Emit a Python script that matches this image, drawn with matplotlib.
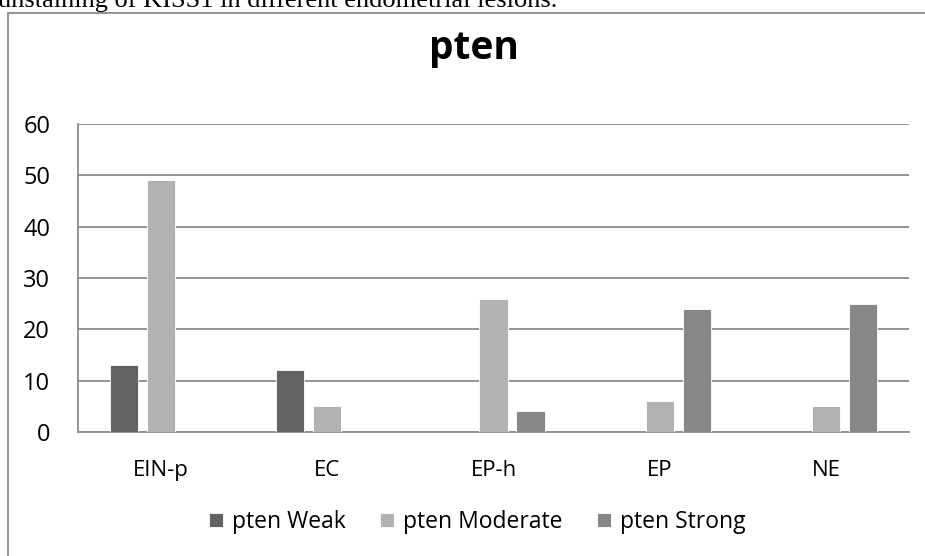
import numpy as np
import matplotlib
matplotlib.use("Agg")
import matplotlib.pyplot as plt
from matplotlib.patches import Rectangle

categories = ["EIN-p", "EC", "EP-h", "EP", "NE"]
series_names = ["pten Weak", "pten Moderate", "pten Strong"]
weak = [13, 12, 0, 0, 0]
moderate = [49, 5, 26, 6, 5]
strong = [0, 0, 4, 24, 25]
yticks = [0, 10, 20, 30, 40, 50, 60]

colors = ["#636363", "#b2b2b2", "#878787"]
plt.rcParams["font.family"] = ["Open Sans", "DejaVu Sans"]

fig = plt.figure(figsize=(9.25, 5.56), dpi=100)
fig.patch.set_facecolor("white")

# outer chart border (runs off the right and bottom of the picture)
fig.patches.append(Rectangle((8 / 925, -0.2), 1.2, 1.2 - 13 / 556,
                             transform=fig.transFigure, fill=False,
                             edgecolor="#8c8c8c", linewidth=1.3))
fig.text(-2 / 925, 1 - 7 / 556, "unstaining of KISS1 in different endometrial lesions.",
         family="Liberation Serif", fontsize=19, ha="left", va="baseline",
         transform=fig.transFigure)

ax = fig.add_axes([78 / 925, 1 - 432 / 556, (909 - 78) / 925, (432 - 124) / 556])

x = np.arange(len(categories))
bw = 0.17
step = 0.223
for i, (vals, name) in enumerate(zip([weak, moderate, strong], series_names)):
    ax.bar(x + (i - 1) * step, vals, width=bw, color=colors[i],
           edgecolor="white", linewidth=0.6, label=name, zorder=3)

ax.set_xlim(-0.5, len(categories) - 0.5)
ax.set_ylim(0, 60)
ax.set_yticks(yticks)
ax.set_xticks(x)
ax.set_xticklabels(categories, fontsize=16)
ax.tick_params(axis="y", labelsize=17, length=0, pad=20)
ax.tick_params(axis="x", length=0, pad=20)
ax.yaxis.grid(True, color="#8c8c8c", linewidth=1.3, zorder=0)
ax.set_axisbelow(True)
for s in ["top", "right"]:
    ax.spines[s].set_visible(False)
ax.spines["left"].set_color("#8c8c8c")
ax.spines["left"].set_linewidth(1.3)
ax.spines["bottom"].set_color("#8c8c8c")
ax.spines["bottom"].set_linewidth(1.3)

fig.text(0.512, 1 - 49 / 556, "pten", fontsize=28, fontweight="bold",
         ha="center", va="center")

fig.legend(loc="center", bbox_to_anchor=(0.516, 1 - 522 / 556), ncol=3,
           frameon=False, fontsize=16.5, handlelength=0.6, handleheight=0.6,
           handletextpad=0.4, columnspacing=1.5)

fig.savefig("out.png", dpi=100, facecolor="white")
